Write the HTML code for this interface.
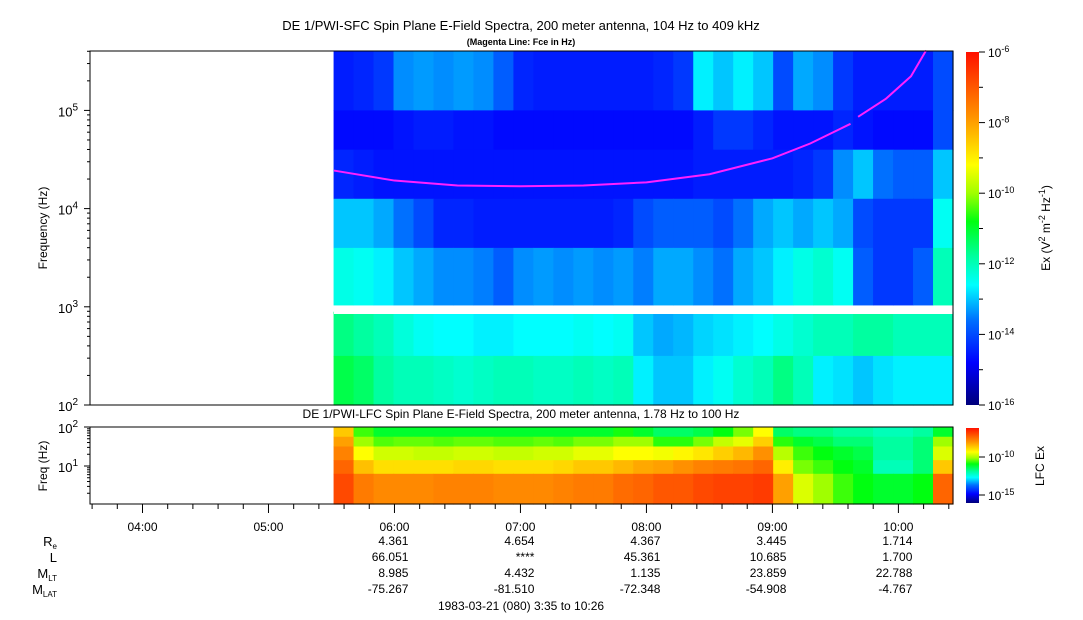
<!DOCTYPE html>
<html><head><meta charset="utf-8">
<style>
html,body{margin:0;padding:0;background:#fff;}
svg{display:block;font-family:"Liberation Sans",Arial,sans-serif;}
text{fill:#000;}
</style></head>
<body>
<svg id="chart" width="1083" height="620" viewBox="0 0 1083 620" xmlns="http://www.w3.org/2000/svg">
<defs>
<linearGradient id="cbar" x1="0" y1="1" x2="0" y2="0">
<stop offset="0" stop-color="#00007a"/>
<stop offset="0.12" stop-color="#0000ff"/>
<stop offset="0.24" stop-color="#0070ff"/>
<stop offset="0.34" stop-color="#00ffff"/>
<stop offset="0.42" stop-color="#00ffa0"/>
<stop offset="0.52" stop-color="#00ff10"/>
<stop offset="0.6" stop-color="#a0ff00"/>
<stop offset="0.68" stop-color="#ffff00"/>
<stop offset="0.82" stop-color="#ff9000"/>
<stop offset="1" stop-color="#ff1000"/>
</linearGradient>
</defs>
<text x="521" y="30" font-size="13" text-anchor="middle">DE 1/PWI-SFC  Spin Plane E-Field Spectra, 200 meter antenna, 104 Hz to 409 kHz</text>
<text x="521" y="45" font-size="9" font-weight="bold" text-anchor="middle">(Magenta Line: Fce in Hz)</text>
<g id="topcells"></g>
<rect x="334" y="309" width="619" height="5" fill="#fff"/>
<polyline id="fce" fill="none" stroke="#ff20ff" stroke-width="2"/>
<polyline id="fce2" fill="none" stroke="#ff20ff" stroke-width="2"/>
<rect x="90" y="51" width="863" height="354" fill="none" stroke="#000"/>
<g id="topyaxis"></g>
<text transform="translate(47,228) rotate(-90)" font-size="12" text-anchor="middle">Frequency (Hz)</text>
<rect x="966" y="52" width="13" height="353" fill="url(#cbar)"/>
<g id="cbaxis"></g>
<text transform="translate(1050,228) rotate(-90)" font-size="12" text-anchor="middle">Ex (V<tspan dy="-5" font-size="9">2</tspan><tspan dy="5"> m</tspan><tspan dy="-5" font-size="9">-2</tspan><tspan dy="5"> Hz</tspan><tspan dy="-5" font-size="9">-1</tspan><tspan dy="5">)</tspan></text>

<text x="521" y="418" font-size="12" text-anchor="middle">DE 1/PWI-LFC  Spin Plane E-Field Spectra, 200 meter antenna, 1.78 Hz to 100 Hz</text>
<g id="lowcells"></g>
<rect x="90" y="427" width="863" height="77" fill="none" stroke="#000"/>
<g id="lowyaxis"></g>
<text transform="translate(47,466) rotate(-90)" font-size="12" text-anchor="middle">Freq (Hz)</text>
<rect x="966" y="428" width="13" height="75" fill="url(#cbar)"/>
<g>
<line x1="979" y1="457" x2="985" y2="457" stroke="#000"/><line x1="979" y1="495" x2="985" y2="495" stroke="#000"/>
<text x="988" y="462" font-size="12">10<tspan dy="-5" font-size="9">-10</tspan></text>
<text x="988" y="500" font-size="12">10<tspan dy="-5" font-size="9">-15</tspan></text>
</g>
<text transform="translate(1044,466) rotate(-90)" font-size="12" text-anchor="middle">LFC Ex</text>
<g id="xaxis"></g>
<g id="ephem"></g>
<text x="521" y="610" font-size="12" text-anchor="middle">1983-03-21 (080) 3:35 to 10:26</text>
</svg>
<script>
// ---- data ----
const startH = 3 + 35/60, endH = 10 + 26/60;
const dataStartH = 5 + 31/60;
const nCols = 31;
const topBandLo = [5.0, 4.6, 4.1, 3.6, 3.02, 2.5, 2.0];
const topBandHi = [5.62, 5.0, 4.6, 4.1, 3.6, 2.95, 2.5];
const topRow0 = [0.15,0.16,0.18,0.26,0.27,0.26,0.27,0.26,0.22,0.16,0.15,0.15,0.15,0.15,0.15,0.15,0.16,0.18,0.33,0.3,0.33,0.3,0.2,0.28,0.26,0.18,0.15,0.15,0.15,0.15,0.2];
const topRow1 = [0.13,0.13,0.13,0.14,0.15,0.15,0.14,0.14,0.13,0.13,0.13,0.13,0.13,0.13,0.13,0.13,0.13,0.13,0.15,0.18,0.18,0.16,0.14,0.14,0.14,0.16,0.14,0.13,0.13,0.13,0.2];
const topRow2 = [0.16,0.15,0.14,0.14,0.14,0.14,0.14,0.14,0.14,0.14,0.14,0.14,0.14,0.14,0.14,0.14,0.14,0.14,0.15,0.15,0.15,0.15,0.15,0.16,0.18,0.26,0.3,0.24,0.22,0.22,0.3];
const topRow3 = [0.3,0.3,0.28,0.24,0.2,0.16,0.16,0.15,0.15,0.15,0.15,0.15,0.15,0.15,0.16,0.2,0.22,0.22,0.22,0.2,0.24,0.28,0.3,0.28,0.3,0.28,0.2,0.18,0.18,0.18,0.35];
const topRow4 = [0.36,0.35,0.33,0.3,0.28,0.26,0.26,0.25,0.22,0.26,0.27,0.26,0.27,0.26,0.27,0.25,0.28,0.28,0.26,0.24,0.28,0.3,0.33,0.36,0.38,0.35,0.22,0.18,0.18,0.22,0.4];
const topRow5 = [0.44,0.42,0.4,0.37,0.35,0.34,0.34,0.33,0.33,0.34,0.34,0.34,0.35,0.34,0.35,0.3,0.28,0.29,0.31,0.32,0.33,0.34,0.36,0.38,0.4,0.4,0.42,0.42,0.4,0.4,0.4];
const topRow6 = [0.48,0.46,0.42,0.4,0.4,0.39,0.38,0.39,0.4,0.4,0.39,0.39,0.4,0.39,0.4,0.33,0.3,0.3,0.33,0.35,0.38,0.4,0.44,0.4,0.33,0.32,0.3,0.32,0.33,0.33,0.33];
const topRows = [topRow0,topRow1,topRow2,topRow3,topRow4,topRow5,topRow6];
const lowBandLo = [1.75, 1.5, 1.15, 0.8, 0.0];
const lowBandHi = [2.0, 1.75, 1.5, 1.15, 0.8];
const lowRow0 = [0.75,0.55,0.5,0.5,0.5,0.5,0.5,0.5,0.5,0.5,0.5,0.5,0.5,0.5,0.53,0.5,0.46,0.46,0.48,0.52,0.58,0.68,0.46,0.44,0.44,0.42,0.42,0.4,0.4,0.42,0.5];
const lowRow1 = [0.8,0.6,0.56,0.57,0.57,0.56,0.57,0.57,0.56,0.56,0.57,0.56,0.58,0.58,0.6,0.6,0.54,0.54,0.58,0.63,0.66,0.74,0.54,0.5,0.48,0.45,0.45,0.42,0.42,0.45,0.6];
const lowRow2 = [0.84,0.68,0.64,0.64,0.63,0.63,0.64,0.64,0.63,0.63,0.64,0.64,0.66,0.66,0.68,0.68,0.67,0.69,0.71,0.74,0.77,0.82,0.62,0.55,0.52,0.5,0.48,0.42,0.42,0.45,0.65];
const lowRow3 = [0.88,0.76,0.72,0.72,0.72,0.72,0.73,0.73,0.72,0.72,0.72,0.73,0.75,0.75,0.77,0.79,0.8,0.82,0.84,0.85,0.86,0.88,0.7,0.58,0.55,0.52,0.5,0.4,0.4,0.45,0.75];
const lowRow4 = [0.92,0.85,0.83,0.83,0.83,0.84,0.84,0.84,0.83,0.83,0.83,0.84,0.85,0.85,0.87,0.88,0.9,0.9,0.92,0.93,0.93,0.94,0.8,0.65,0.6,0.55,0.52,0.5,0.5,0.52,0.88];
const lowRows = [lowRow0,lowRow1,lowRow2,lowRow3,lowRow4];
const fceTime = [5.52,6.0,6.5,7.0,7.5,8.0,8.5,9.0,9.3,9.62];
const fceKHz = [24.4,19.3,17.2,16.9,17.2,18.5,22.4,32.5,46,73];
const fce2Time = [9.68,9.9,10.1,10.22];
const fce2KHz = [86,131,223,409];
const hourTicks = [4,5,6,7,8,9,10];
const hourLabels = ["04:00","05:00","06:00","07:00","08:00","09:00","10:00"];
const ephemNames = ["R","L","M","M"];
const ephemSubs = ["e","","LT","LAT"];
const ephemRe = ["4.361","4.654","4.367","3.445","1.714"];
const ephemL = ["66.051","****","45.361","10.685","1.700"];
const ephemMLT = ["8.985","4.432","1.135","23.859","22.788"];
const ephemMLAT = ["-75.267","-81.510","-72.348","-54.908","-4.767"];
const ephemRows = [ephemRe, ephemL, ephemMLT, ephemMLAT];

// ---- scales ----
const NS = "http://www.w3.org/2000/svg";
const X0 = 90, X1 = 953;
const xS = h => X0 + (h - startH) / (endH - startH) * (X1 - X0);
const yTop = lg => 405 - (lg - 2) * 98.2;
const yLow = lg => 466 - (lg - 1) * 39;
function color(v){
  const st=[[0,0,0,122],[0.12,0,0,255],[0.24,0,112,255],[0.34,0,255,255],[0.42,0,255,160],[0.52,0,255,16],[0.6,160,255,0],[0.68,255,255,0],[0.82,255,144,0],[1,255,16,0]];
  v=Math.max(0,Math.min(1,v));
  for(let i=1;i<st.length;i++){ if(v<=st[i][0]){ const a=st[i-1],b=st[i],t=(v-a[0])/(b[0]-a[0]);
    return `rgb(${Math.round(a[1]+(b[1]-a[1])*t)},${Math.round(a[2]+(b[2]-a[2])*t)},${Math.round(a[3]+(b[3]-a[3])*t)})`; } }
  return "rgb(255,16,0)";
}
function mk(tag, attrs, parent){ const e=document.createElementNS(NS,tag); for(const k in attrs) e.setAttribute(k,attrs[k]); parent.appendChild(e); return e; }
const colW = (endH - dataStartH) / nCols;

const tg = document.getElementById('topcells');
topRows.forEach((row, r) => {
  row.forEach((v, c) => {
    const xa = xS(dataStartH + c*colW), xb = xS(dataStartH + (c+1)*colW);
    const ya = Math.max(51, yTop(topBandHi[r])), yb = yTop(topBandLo[r]);
    const el = mk('rect', {x:xa, y:ya, width:xb-xa+0.6, height:yb-ya+0.6, fill:color(v)}, tg);
    
    
  });
});
const lg = document.getElementById('lowcells');
lowRows.forEach((row, r) => {
  row.forEach((v, c) => {
    const xa = xS(dataStartH + c*colW), xb = xS(dataStartH + (c+1)*colW);
    const ya = Math.max(427, yLow(lowBandHi[r])), yb = Math.min(504, yLow(lowBandLo[r]));
    const el = mk('rect', {x:xa, y:ya, width:xb-xa+0.6, height:yb-ya+0.6, fill:color(v)}, lg);
    
    
  });
});
document.getElementById('fce').setAttribute('points', fceTime.map((t,i)=>xS(t)+','+yTop(Math.log10(fceKHz[i]*1000))).join(' '));
document.getElementById('fce2').setAttribute('points', fce2Time.map((t,i)=>xS(t)+','+yTop(Math.log10(fce2KHz[i]*1000))).join(' '));

const ty = document.getElementById('topyaxis');
for(let d=2; d<=5; d++){
  for(let m=1;m<=9;m++){
    const lgv = d + Math.log10(m); if(lgv>5.612) continue;
    const y = yTop(lgv);
    mk('line',{x1:m===1?84:87,y1:y,x2:90,y2:y,stroke:'#000'},ty);
  }
  const t = mk('text',{x:58,y:yTop(d)+6,'font-size':13},ty);
  t.innerHTML = '10<tspan dy="-6" font-size="10">'+d+'</tspan>';
  
  
}
const cb = document.getElementById('cbaxis');
for(let i=0;i<=10;i++){
  const y = 52 + i*353/10;
  mk('line',{x1:979,y1:y,x2:i%2===0?985:983,y2:y,stroke:'#000'},cb);
  if(i%2===0){
    const t = mk('text',{x:988,y:y+5,'font-size':12},cb);
    t.innerHTML = '10<tspan dy="-5" font-size="9">'+(-6-i)+'</tspan>';
    
    
  }
}
const ly = document.getElementById('lowyaxis');
for(let d=0; d<=2; d++){
  for(let m=1;m<=9;m++){
    const lgv = d + Math.log10(m); if(lgv<0.25||lgv>2.001) continue;
    const y = yLow(lgv);
    mk('line',{x1:m===1?84:87,y1:y,x2:90,y2:y,stroke:'#000'},ly);
  }
}
[1,2].forEach(d=>{
  const t = mk('text',{x:58,y:yLow(d)+6,'font-size':13},ly);
  t.innerHTML = '10<tspan dy="-6" font-size="10">'+d+'</tspan>';
  
  
});
const xa = document.getElementById('xaxis');
for(let m=36; m<=626; m+=12){
  const h = m/60; if(h<startH||h>endH) continue;
  const x = xS(h);
  mk('line',{x1:x,y1:504,x2:x,y2:(m%60===0)?513:509,stroke:'#000'},xa);
}
hourTicks.forEach((h,i)=>{
  const t = mk('text',{x:xS(h),y:531,'font-size':12,'text-anchor':'middle'},xa);
  t.textContent = hourLabels[i];
  
  
});
const ep = document.getElementById('ephem');
const rowY = [546,562,578,594];
ephemNames.forEach((n,i)=>{
  const t = mk('text',{x:57,y:rowY[i],'font-size':13,'text-anchor':'end'},ep);
  t.innerHTML = n + (ephemSubs[i]?'<tspan dy="3" font-size="8">'+ephemSubs[i]+'</tspan>':'');
  
  
});
ephemRows.forEach((row,i)=>{
  row.forEach((v,j)=>{
    const t = mk('text',{x:xS(6+j)+14,y:rowY[i]-1,'font-size':12,'text-anchor':'end'},ep);
    t.textContent = v;
    
    
  });
});
</script>
</body></html>
